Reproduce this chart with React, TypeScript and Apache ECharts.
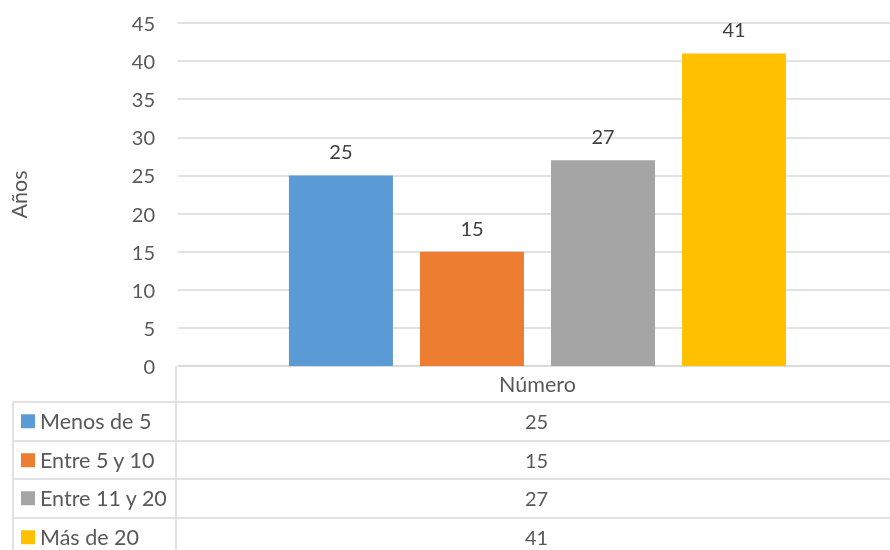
import React, { useEffect, useRef } from "react";
import * as echarts from "echarts";

const categories = ["Número"];
const seriesNames = ["Menos de 5", "Entre 5 y 10", "Entre 11 y 20", "Más de 20"];
const seriesValues = [25, 15, 27, 41];
const colors = ["#5B9BD5", "#ED7D31", "#A5A5A5", "#FFC000"];
const yTicks = { min: 0, max: 45, interval: 5 };
const yAxisName = "Años";

const FONT = "Lato, 'Open Sans', sans-serif";
const TEXT = "#595959";
const LINE = "#d9d9d9";
const FS = 20;
const FS_TXT = 21.5;

const W = 897;
const H = 550;

export default function App() {
  const ref = useRef<HTMLDivElement>(null);
  useEffect(() => {
    const chart = echarts.init(ref.current!, null, { renderer: "svg" });
    const gridLeft = 176;
    const gridTop = 23;
    const gridBottomY = 366;
    const rowTops = [402, 441, 479, 518];
    const rowH = 38.5;
    const tableLeft = 13;
    const tableRight = W;
    const colCenter = (gridLeft + tableRight) / 2;

    const graphics: any[] = [];
    graphics.push({ type: "line", shape: { x1: gridLeft, y1: gridBottomY, x2: gridLeft, y2: 560 }, style: { stroke: LINE, lineWidth: 1.5 } });
    graphics.push({ type: "line", shape: { x1: tableLeft, y1: rowTops[0], x2: tableLeft, y2: 560 }, style: { stroke: LINE, lineWidth: 1.5 } });
    rowTops.forEach((y) => {
      graphics.push({ type: "line", shape: { x1: tableLeft, y1: y, x2: tableRight, y2: y }, style: { stroke: LINE, lineWidth: 1.5 } });
    });
    seriesValues.forEach((v, i) => {
      graphics.push({
        type: "text",
        x: colCenter,
        y: rowTops[i] + rowH / 2,
        style: { text: String(v), fill: TEXT, font: `${FS}px ${FONT}`, align: "center", verticalAlign: "middle" },
      });
    });

    chart.setOption({
      animation: false,
      textStyle: { fontFamily: FONT },
      grid: { left: gridLeft, top: gridTop, right: 0, bottom: H - gridBottomY },
      xAxis: {
        type: "category",
        data: categories,
        axisTick: { show: false },
        axisLine: { lineStyle: { color: LINE, width: 1.5 } },
        axisLabel: { color: TEXT, fontSize: FS_TXT, margin: 7, fontFamily: FONT },
      },
      yAxis: {
        type: "value",
        min: yTicks.min,
        max: yTicks.max,
        interval: yTicks.interval,
        name: yAxisName,
        nameLocation: "middle",
        nameGap: 148,
        nameTextStyle: { color: TEXT, fontSize: FS_TXT, fontFamily: FONT },
        axisLine: { show: false },
        axisTick: { show: false },
        axisLabel: { color: TEXT, fontSize: FS, margin: 23, fontFamily: FONT },
        splitLine: { lineStyle: { color: LINE, width: 1.5 } },
      },
      legend: seriesNames.map((name, i) => ({
        orient: "vertical",
        left: 21,
        top: rowTops[i] + rowH / 2 - 12,
        padding: 0,
        itemWidth: 14,
        itemHeight: 14,
        itemGap: 0,
        icon: "rect",
        textStyle: { color: TEXT, fontSize: FS_TXT, lineHeight: 24, fontFamily: FONT },
        data: [name],
        selectedMode: false,
      })),
      series: seriesNames.map((name, i) => ({
        name,
        type: "bar",
        data: [seriesValues[i]],
        barWidth: 104,
        barGap: "26%",
        itemStyle: { color: colors[i] },
        label: { show: true, position: "top", distance: 14, color: "#404040", fontSize: FS, fontFamily: FONT },
      })),
      graphic: graphics,
    });
    return () => chart.dispose();
  }, []);
  return <div ref={ref} style={{ position: "fixed", left: 0, top: 0, width: W, height: H }} />;
}
